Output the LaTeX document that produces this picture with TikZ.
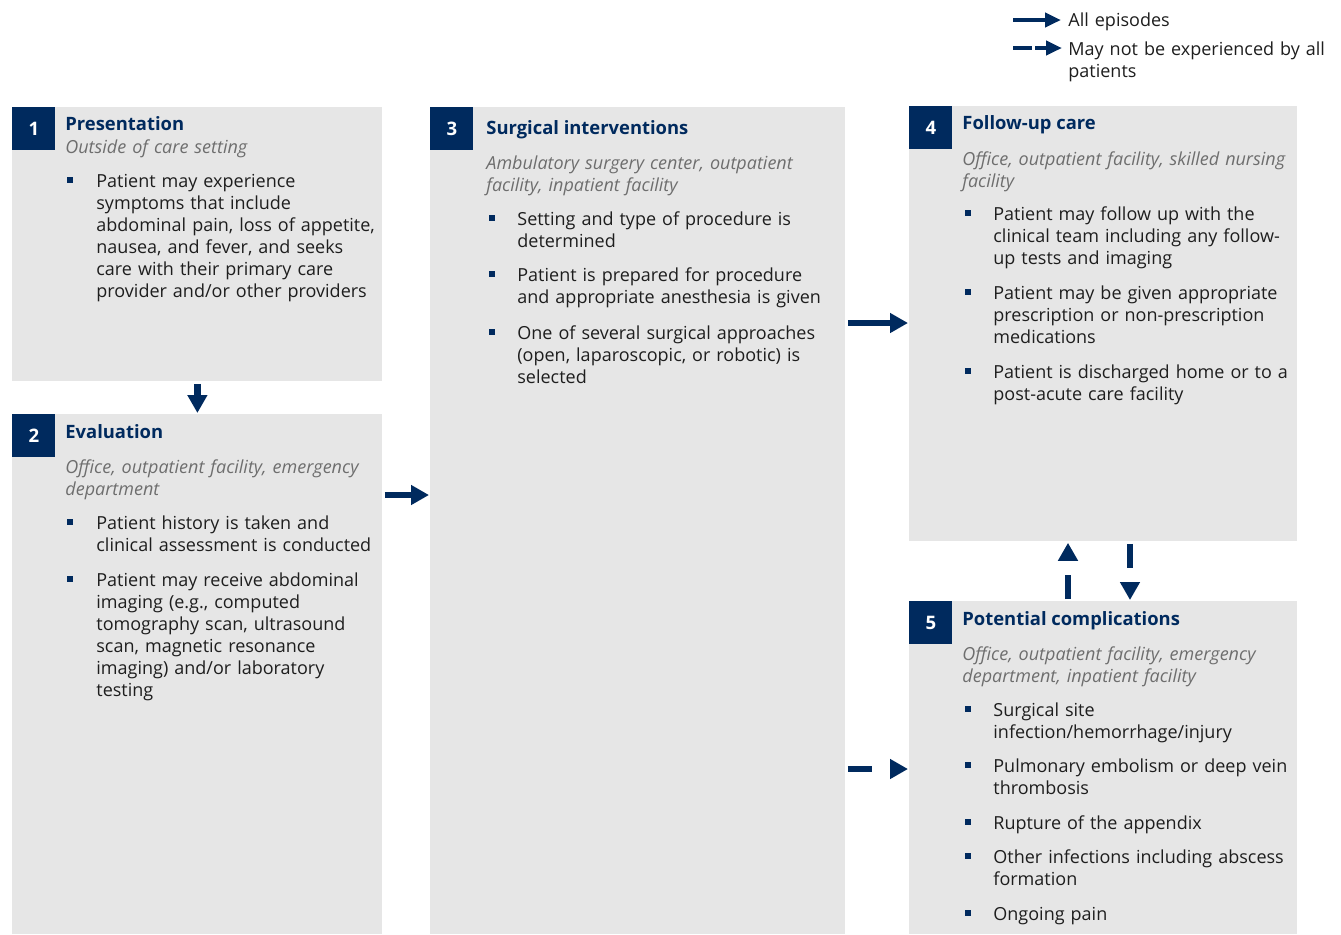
\documentclass[tikz,border=0pt]{standalone}
\usepackage{fontspec}
\setmainfont{Open Sans}
\usetikzlibrary{arrows.meta,positioning}
\definecolor{stagenavy}{RGB}{0,42,94}
\definecolor{stagegrey}{RGB}{230,230,230}
\definecolor{placegrey}{RGB}{110,110,110}
\definecolor{bodytext}{RGB}{30,30,30}

\begin{document}
\begin{tikzpicture}[
    x=0.5pt, y=-0.5pt,
    stage/.style={rectangle, fill=stagegrey, inner sep=0pt, anchor=north west},
    stagenum/.style={rectangle, fill=stagenavy, text=white, minimum size=21.5pt,
    inner sep=0pt, anchor=north west, font=\bfseries\fontsize{9.3}{11}\selectfont},
    stagetitle/.style={anchor=base west, inner sep=0pt, text=stagenavy,
    font=\bfseries\fontsize{9.2}{11}\selectfont},
    stageplace/.style={anchor=base west, inner sep=0pt, text width=200pt, align=left,
    text=placegrey, font=\itshape\fontsize{9}{11}\selectfont},
    stageitem/.style={anchor=base west, inner sep=0pt, text width=170pt, align=left,
    text=bodytext, font=\fontsize{9}{11}\selectfont},
    bul/.style={rectangle, fill=stagenavy, minimum size=3pt, inner sep=0pt},
    legtext/.style={anchor=base west, inner sep=0pt, text width=140pt, align=left,
    text=bodytext, font=\fontsize{9}{11}\selectfont},
    arrow/.style={-{Triangle[length=9pt, width=9.5pt]}, line width=3.2pt, draw=stagenavy,
    shorten <=1pt, shorten >=0.5pt},
    maybe/.style={arrow, dash pattern=on 12pt off 20pt},
    legarrow/.style={-{Triangle[length=8pt, width=7pt]}, line width=2.2pt, draw=stagenavy}
]
\useasboundingbox (0,0) rectangle (1341,934);
\fill[white] (0,0) rectangle (1341,934);

% legend
\coordinate (leg1) at (1013,20);
\coordinate (leg1e) at (1061,20);
\coordinate (leg2) at (1013,48);
\coordinate (leg2e) at (1062,48);
\draw[legarrow] (leg1) -- (leg1e);
\draw[legarrow, dash pattern=on 9.5pt off 1.5pt] (leg2) -- (leg2e);
\node[legtext] (legall) at (1068,26) {All episodes};
\node[legtext] (legmay) at (1068,55) {May not be experienced by all\\patients};

% stages
\node[stage, minimum width=185pt, minimum height=137pt] (s1) at (12,107) {};
\node[stage, minimum width=185pt, minimum height=260pt] (s2) at (12,414) {};
\node[stage, minimum width=207.5pt, minimum height=413.5pt] (s3) at (430,107) {};
\node[stage, minimum width=194pt, minimum height=217.5pt] (s4) at (909,106) {};
\node[stage, minimum width=194pt, minimum height=166.5pt] (s5) at (909,601) {};
\node[stagenum] (n1) at (s1.north west) {1};
\node[stagenum] (n2) at (s2.north west) {2};
\node[stagenum] (n3) at (s3.north west) {3};
\node[stagenum] (n4) at (s4.north west) {4};
\node[stagenum] (n5) at (s5.north west) {5};

% 1 presentation
\node[stagetitle] (t1) at (65,130) {Presentation};
\node[stageplace] (p1) at (65,153) {Outside of care setting};
\node[stageitem] (i11) at (96,187) {Patient may experience\\symptoms that include\\abdominal pain, loss of appetite,\\nausea, and fever, and seeks\\care with their primary care\\provider and/or other providers};
\node[bul] (u11) at ([xshift=-13pt, yshift=3.5pt]i11.base west) {};

% 2 evaluation
\node[stagetitle] (t2) at (65,438) {Evaluation};
\node[stageplace] (p2) at (65,473) {Office, outpatient facility, emergency\\department};
\node[stageitem] (i21) at (96,529) {Patient history is taken and\\clinical assessment is conducted};
\node[stageitem] (i22) at (96,586) {Patient may receive abdominal\\imaging (e.g., computed\\tomography scan, ultrasound\\scan, magnetic resonance\\imaging) and/or laboratory\\testing};
\node[bul] (u21) at ([xshift=-13pt, yshift=3.5pt]i21.base west) {};
\node[bul] (u22) at ([xshift=-13pt, yshift=3.5pt]i22.base west) {};

% 3 surgical interventions
\node[stagetitle] (t3) at (486,134) {Surgical interventions};
\node[stageplace] (p3) at (486,169) {Ambulatory surgery center, outpatient\\facility, inpatient facility};
\node[stageitem] (i31) at (517,225) {Setting and type of procedure is\\determined};
\node[stageitem] (i32) at (517,281) {Patient is prepared for procedure\\and appropriate anesthesia is given};
\node[stageitem] (i33) at (517,339) {One of several surgical approaches\\(open, laparoscopic, or robotic) is\\selected};
\node[bul] (u31) at ([xshift=-12.5pt, yshift=3.5pt]i31.base west) {};
\node[bul] (u32) at ([xshift=-12.5pt, yshift=3.5pt]i32.base west) {};
\node[bul] (u33) at ([xshift=-12.5pt, yshift=3.5pt]i33.base west) {};

% 4 follow-up care
\node[stagetitle] (t4) at (962,129) {Follow-up care};
\node[stageplace] (p4) at (962,165) {Office, outpatient facility, skilled nursing\\facility};
\node[stageitem] (i41) at (993,220) {Patient may follow up with the\\clinical team including any follow-\\up tests and imaging};
\node[stageitem] (i42) at (993,299) {Patient may be given appropriate\\prescription or non-prescription\\medications};
\node[stageitem] (i43) at (993,378) {Patient is discharged home or to a\\post-acute care facility};
\node[bul] (u41) at ([xshift=-12.5pt, yshift=3.5pt]i41.base west) {};
\node[bul] (u42) at ([xshift=-12.5pt, yshift=3.5pt]i42.base west) {};
\node[bul] (u43) at ([xshift=-12.5pt, yshift=3.5pt]i43.base west) {};

% 5 potential complications
\node[stagetitle] (t5) at (962,625) {Potential complications};
\node[stageplace] (p5) at (962,660) {Office, outpatient facility, emergency\\department, inpatient facility};
\node[stageitem] (i51) at (993,716) {Surgical site\\infection/hemorrhage/injury};
\node[stageitem] (i52) at (993,772) {Pulmonary embolism or deep vein\\thrombosis};
\node[stageitem] (i53) at (993,829) {Rupture of the appendix};
\node[stageitem] (i54) at (993,863) {Other infections including abscess\\formation};
\node[stageitem] (i55) at (993,920) {Ongoing pain};
\node[bul] (u51) at ([xshift=-12.5pt, yshift=3.5pt]i51.base west) {};
\node[bul] (u52) at ([xshift=-12.5pt, yshift=3.5pt]i52.base west) {};
\node[bul] (u53) at ([xshift=-12.5pt, yshift=3.5pt]i53.base west) {};
\node[bul] (u54) at ([xshift=-12.5pt, yshift=3.5pt]i54.base west) {};
\node[bul] (u55) at ([xshift=-12.5pt, yshift=3.5pt]i55.base west) {};

% connectors
\coordinate (y23) at (0,495);
\coordinate (y34) at (0,323);
\coordinate (y35) at (0,769);
\coordinate (x54) at (1068,0);
\coordinate (x45) at (1130,0);
\draw[arrow] (s1.south) -- (s2.north);
\draw[arrow] (s2.east |- y23) -- (s3.west |- y23);
\draw[arrow] (s3.east |- y34) -- (s4.west |- y34);
\draw[maybe] (s3.east |- y35) -- (s5.west |- y35);
\draw[maybe] (s5.north -| x54) -- (s4.south -| x54);
\draw[maybe] (s4.south -| x45) -- (s5.north -| x45);
\end{tikzpicture}
\end{document}
